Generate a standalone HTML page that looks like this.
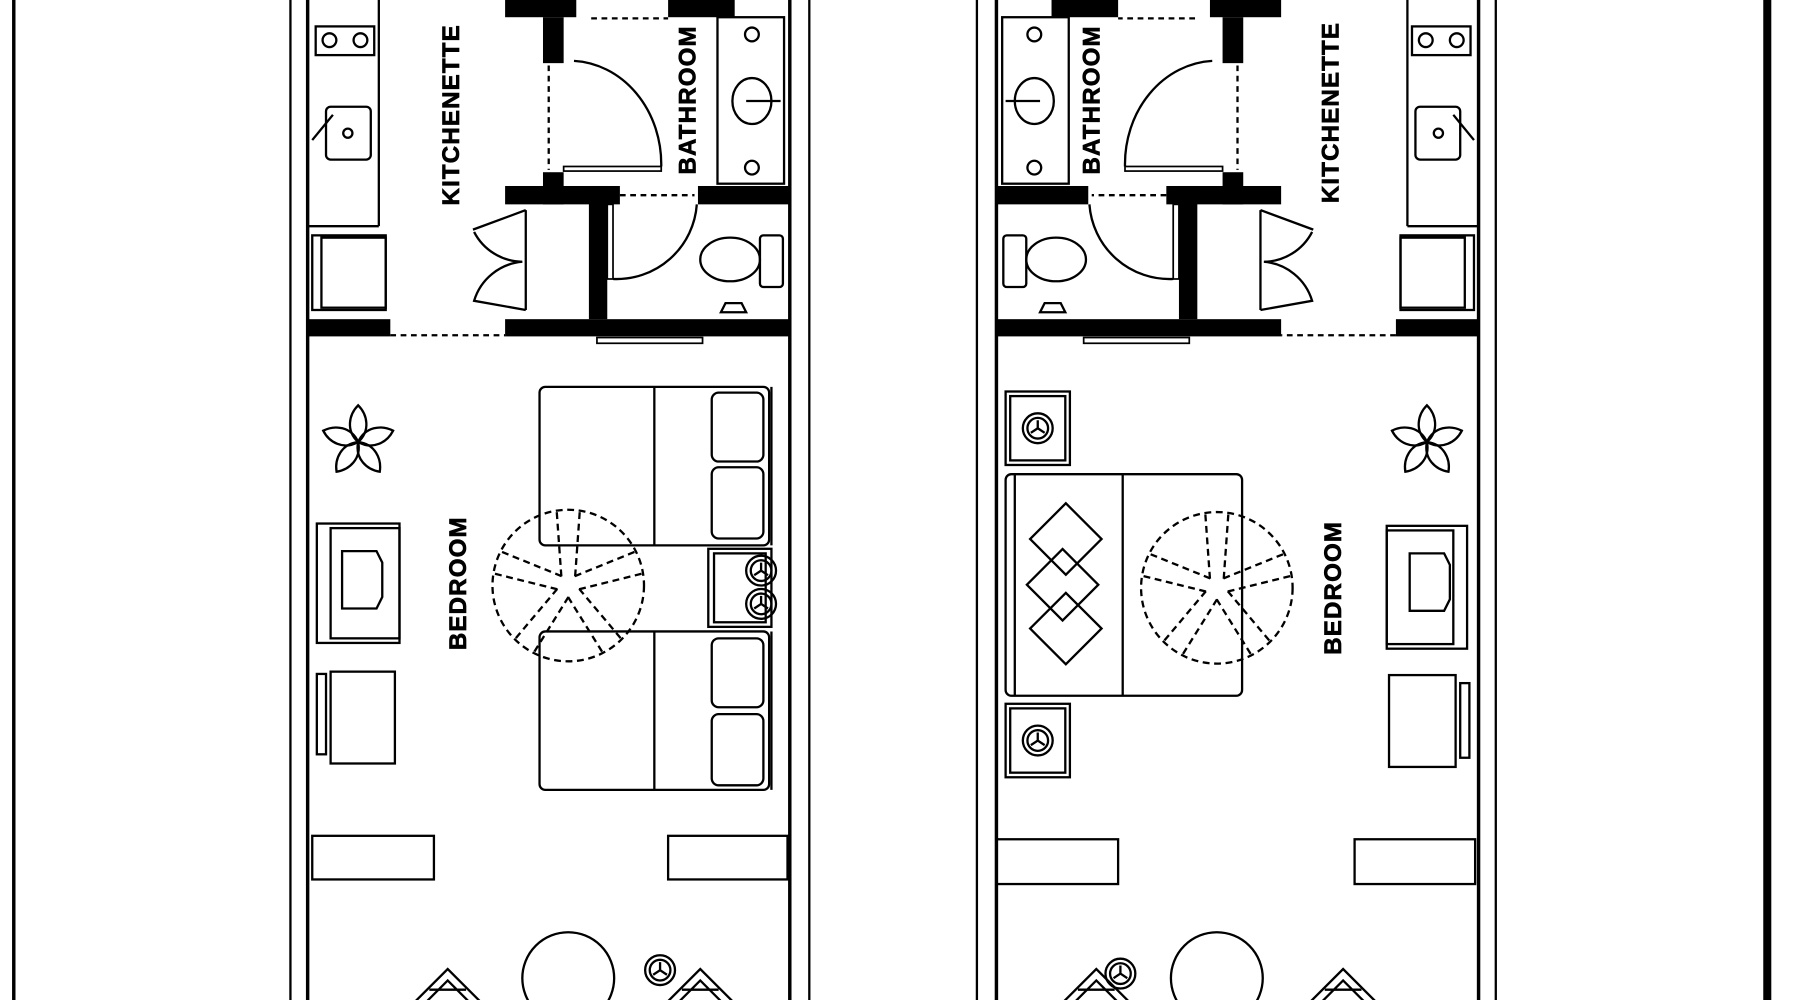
<!DOCTYPE html>
<html><head><meta charset="utf-8"><style>
html,body{margin:0;padding:0;background:#fff;}
svg{display:block;}
text{font-family:"Liberation Sans",sans-serif;font-weight:bold;font-size:21px;fill:#000;letter-spacing:1px;stroke:#000;stroke-width:0.6px;}
</style></head><body>
<svg width="1800" height="1000" viewBox="0 0 1568 871" preserveAspectRatio="none" xmlns="http://www.w3.org/2000/svg">
<defs>
<g id="top" fill="none" stroke="#000" stroke-width="2">
  <line x1="253" y1="0" x2="253" y2="871"/>
  <line x1="268" y1="0" x2="268" y2="871" stroke-width="3"/>
  <line x1="688" y1="0" x2="688" y2="871" stroke-width="3"/>
  <line x1="705" y1="0" x2="705" y2="871"/>
  <line x1="330" y1="0" x2="330" y2="197"/>
  <line x1="268" y1="197" x2="330" y2="197"/>
  <rect x="275" y="23" width="51" height="25"/>
  <circle cx="287" cy="35" r="6"/><circle cx="314" cy="35" r="6"/>
  <rect x="284" y="93" width="39" height="46" rx="4"/>
  <circle cx="303" cy="116" r="4"/>
  <line x1="272" y1="122" x2="290" y2="100"/>
  <rect x="272" y="205" width="64" height="65"/>
  <rect x="280" y="207" width="56" height="61"/>
  <g fill="#000" stroke="none">
    <rect x="268" y="278" width="72" height="15"/>
    <rect x="440" y="278" width="248" height="15"/>
    <rect x="440" y="0" width="62" height="15"/>
    <rect x="582" y="0" width="58" height="15"/>
    <rect x="473" y="15" width="18" height="40"/>
    <rect x="473" y="150" width="18" height="28"/>
    <rect x="440" y="162" width="100" height="16"/>
    <rect x="608" y="162" width="80" height="16"/>
    <rect x="513" y="162" width="16" height="116"/>
  </g>
  <line x1="340" y1="292" x2="440" y2="292" stroke-dasharray="5,4"/>
  <rect x="520" y="294" width="92" height="5" stroke-width="1.5"/>
  <line x1="478" y1="57" x2="478" y2="148" stroke-dasharray="5,4"/>
  <rect x="491" y="145" width="85" height="4" stroke-width="1.5"/>
  <path d="M500 53 A 80 90 0 0 1 576 145"/>
  <line x1="515" y1="16" x2="582" y2="16" stroke-dasharray="5,4"/>
  <rect x="625" y="15" width="58" height="145"/>
  <circle cx="655" cy="30" r="6"/><circle cx="655" cy="146" r="6"/>
  <ellipse cx="655" cy="88" rx="17" ry="20"/>
  <line x1="650" y1="88" x2="680" y2="88"/>
  <line x1="540" y1="170" x2="605" y2="170" stroke-dasharray="5,4"/>
  <rect x="529" y="178" width="5" height="65" stroke-width="1.5"/>
  <path d="M534 243 A 70 70 0 0 0 607 178"/>
  <rect x="662" y="205" width="20" height="45" rx="3"/>
  <ellipse cx="636" cy="226" rx="26" ry="19"/>
  <path d="M628 272 l4 -8 h14 l4 8 z"/>
  <path d="M458 183 L412 200 M413 202 A 48 48 0 0 0 455 228 A 48 48 0 0 0 413 262 L458 270"/>
  <line x1="458" y1="183" x2="458" y2="270"/>
</g>
<g id="chair" fill="none" stroke="#000" stroke-width="2">
  <path d="M-6 30 L30 -6 L66 30"/><path d="M4 30 L30 4 L56 30"/>
  <line x1="14" y1="12" x2="46" y2="12"/>
</g>
<g id="leaf">
  <path d="M0 0 C-11 -10 -8 -24 0 -32 C8 -24 11 -10 0 0 Z"/>
</g>
<g id="plant" fill="none" stroke="#000" stroke-width="2">
  <use href="#leaf"/>
  <use href="#leaf" transform="rotate(72)"/>
  <use href="#leaf" transform="rotate(144)"/>
  <use href="#leaf" transform="rotate(216)"/>
  <use href="#leaf" transform="rotate(288)"/>
</g>
<g id="fan" fill="none" stroke="#000" stroke-width="2" stroke-dasharray="6,4">
  <circle r="66"/>
  <path d="M-6 -8 L-10 -64 M6 -8 L10 -64"/>
  <path d="M-6 -8 L-10 -64 M6 -8 L10 -64" transform="rotate(72)"/>
  <path d="M-6 -8 L-10 -64 M6 -8 L10 -64" transform="rotate(144)"/>
  <path d="M-6 -8 L-10 -64 M6 -8 L10 -64" transform="rotate(216)"/>
  <path d="M-6 -8 L-10 -64 M6 -8 L10 -64" transform="rotate(288)"/>
</g>
<g id="lamp" fill="none" stroke="#000" stroke-width="2">
  <circle r="13"/><circle r="9"/>
  <path d="M0 0 L0 -7 M0 0 L6 4 M0 0 L-6 4"/>
</g>
</defs>
<rect width="1568" height="871" fill="#fff"/>
<line x1="12" y1="0" x2="12" y2="871" stroke="#000" stroke-width="3"/>
<rect x="1536" y="0" width="7" height="871" fill="#000"/>

<use href="#top"/>
<use href="#top" transform="translate(1556,0) scale(-1,1)"/>

<text transform="translate(400,100) rotate(-90)" text-anchor="middle">KITCHENETTE</text>
<text transform="translate(606,87) rotate(-90)" text-anchor="middle">BATHROOM</text>
<text transform="translate(406,508) rotate(-90)" text-anchor="middle">BEDROOM</text>
<text transform="translate(1166,98) rotate(-90)" text-anchor="middle">KITCHENETTE</text>
<text transform="translate(958,87) rotate(-90)" text-anchor="middle">BATHROOM</text>
<text transform="translate(1168,512) rotate(-90)" text-anchor="middle">BEDROOM</text>

<g fill="none" stroke="#000" stroke-width="2">
  <rect x="470" y="337" width="200" height="138" rx="5"/>
  <line x1="570" y1="337" x2="570" y2="475"/>
  <line x1="672" y1="337" x2="672" y2="475"/>
  <rect x="620" y="342" width="45" height="60" rx="6"/>
  <rect x="620" y="407" width="45" height="62" rx="6"/>
  <rect x="470" y="550" width="200" height="138" rx="5"/>
  <line x1="570" y1="550" x2="570" y2="688"/>
  <line x1="672" y1="550" x2="672" y2="688"/>
  <rect x="620" y="556" width="45" height="60" rx="6"/>
  <rect x="620" y="622" width="45" height="62" rx="6"/>
  <rect x="617" y="478" width="55" height="68"/>
  <rect x="622" y="482" width="45" height="60"/>
  <rect x="276" y="456" width="72" height="104"/>
  <rect x="288" y="460" width="60" height="96"/>
  <path d="M298 480 h30 l5 10 v30 l-5 10 h-30 z"/>
  <rect x="276" y="587" width="8" height="70"/>
  <rect x="288" y="585" width="56" height="80"/>
  <rect x="272" y="728" width="106" height="38"/>
  <rect x="582" y="728" width="104" height="38"/>
  <circle cx="495" cy="852" r="40"/>
</g>
<use href="#fan" x="495" y="510"/>
<use href="#plant" x="312" y="385"/>
<use href="#lamp" x="663" y="497"/><use href="#lamp" x="663" y="526"/>
<use href="#lamp" x="575" y="845"/>
<use href="#chair" x="360" y="850"/><use href="#chair" x="580" y="850"/>

<g fill="none" stroke="#000" stroke-width="2">
  <rect x="876" y="413" width="206" height="193" rx="5"/>
  <line x1="884" y1="413" x2="884" y2="606"/>
  <line x1="978" y1="413" x2="978" y2="606"/>
  <rect x="905" y="451" width="44" height="44" transform="rotate(45 932 473)"/>
  <rect x="905" y="492" width="44" height="44" transform="rotate(45 932 510)"/>
  <rect x="905" y="529" width="44" height="44" transform="rotate(45 932 551)"/>
  <rect x="876" y="341" width="56" height="64"/><rect x="880" y="345" width="48" height="56"/>
  <rect x="876" y="613" width="56" height="64"/><rect x="880" y="617" width="48" height="56"/>
  <rect x="1208" y="458" width="70" height="107"/>
  <rect x="1208" y="462" width="58" height="99"/>
  <path d="M1228 482 h30 l5 10 v30 l-5 10 h-30 z"/>
  <rect x="1272" y="595" width="8" height="65"/>
  <rect x="1210" y="588" width="58" height="80"/>
  <rect x="868" y="731" width="106" height="39"/>
  <rect x="1180" y="731" width="105" height="39"/>
  <circle cx="1060" cy="852" r="40"/>
</g>
<use href="#fan" x="1060" y="512"/>
<use href="#plant" x="1243" y="385"/>
<use href="#lamp" x="904" y="373"/><use href="#lamp" x="904" y="645"/>
<use href="#lamp" x="976" y="848"/>
<use href="#chair" x="925" y="850"/><use href="#chair" x="1140" y="850"/>
</svg>
</body></html>
